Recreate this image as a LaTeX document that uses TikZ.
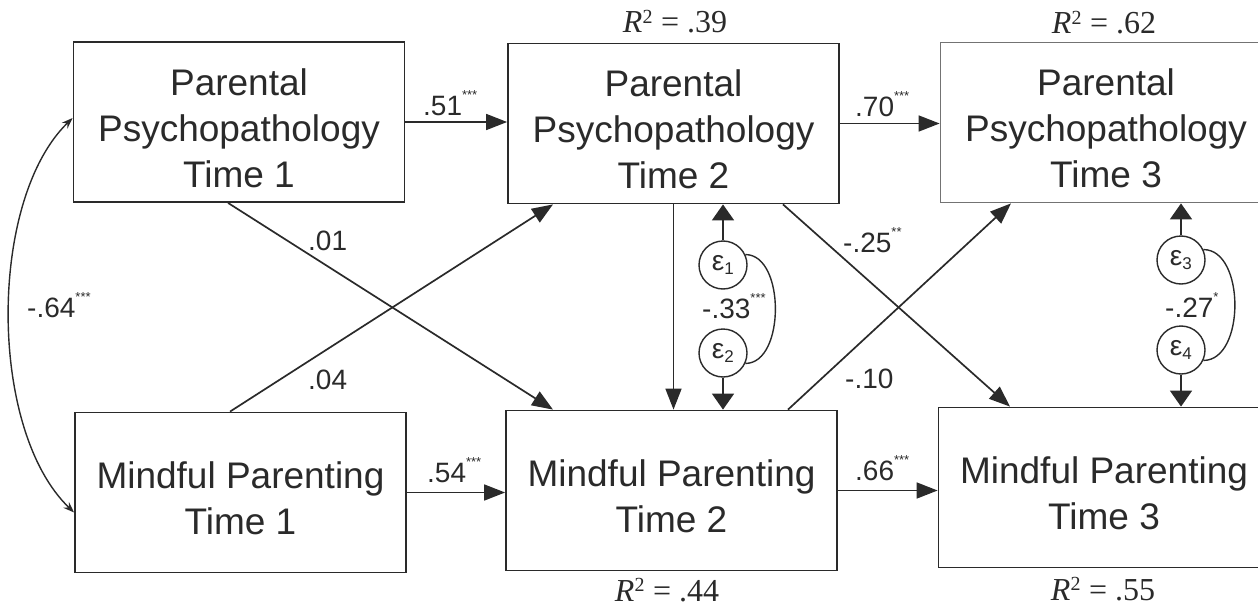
\documentclass[tikz,border=0pt]{standalone}
\usepackage{fontspec}
\setmainfont{Liberation Sans}
\newfontfamily\seriffont{Liberation Serif}
\usetikzlibrary{arrows.meta}
\newcommand{\sigstars}[1]{\raisebox{0.55em}{\fontsize{13}{13}\selectfont #1}}
\definecolor{ink}{HTML}{2A2A2A}
\begin{document}
\begin{tikzpicture}[x=1pt,y=-1pt,
  box/.style={draw=ink, line width=1.8pt, minimum width=331pt, minimum height=160pt, inner sep=0pt},
  boxtext/.style={align=center, font=\fontsize{37}{46}\selectfont, inner sep=0pt, text=ink},
  conn/.style={line width=1.7pt, draw=ink, -{Triangle[length=21pt,width=16pt]}},
  econn/.style={line width=1.7pt, draw=ink, -{Triangle[length=16pt,width=22pt]}},
  corr/.style={line width=1.4pt, draw=ink},
  eps/.style={circle, draw=ink, line width=1.4pt, minimum size=48pt, inner sep=0pt,
    font=\fontsize{28}{28}\selectfont, text=ink},
  lab/.style={font=\fontsize{28}{28}\selectfont, inner sep=0pt, anchor=base west, text=ink},
  rsq/.style={font=\seriffont\fontsize{32}{32}\selectfont, inner sep=0pt, anchor=base, text=ink}]
\useasboundingbox (0,0) rectangle (1258,610);

% boxes
\node[box] (pp1) at (239,122) {};
\node[box] (pp2) at (673.5,123.5) {};
\node[box, draw=black!55] (pp3) at (1106,122.5) {};
\node[box] (mp1) at (240.5,492.5) {};
\node[box] (mp2) at (671.5,490.5) {};
\node[box] (mp3) at (1104,487.5) {};
\node[boxtext] (tpp1) at ([yshift=-6pt]pp1.center) {Parental\\Psychopathology\\Time 1};
\node[boxtext] (tpp2) at ([yshift=-6pt]pp2.center) {Parental\\Psychopathology\\Time 2};
\node[boxtext] (tpp3) at ([yshift=-6pt]pp3.center) {Parental\\Psychopathology\\Time 3};
\node[boxtext] (tmp1) at ([yshift=-6pt]mp1.center) {Mindful Parenting\\Time 1};
\node[boxtext] (tmp2) at ([yshift=-6pt]mp2.center) {Mindful Parenting\\Time 2};
\node[boxtext] (tmp3) at ([yshift=-6pt]mp3.center) {Mindful Parenting\\Time 3};

% R squared
\node[rsq] (r39) at (675,33) {\textit{R}\textsuperscript{\fontsize{20}{20}\selectfont 2} = .39};
\node[rsq] (r62) at (1104,34) {\textit{R}\textsuperscript{\fontsize{20}{20}\selectfont 2} = .62};
\node[rsq] (r44) at (667,601) {\textit{R}\textsuperscript{\fontsize{20}{20}\selectfont 2} = .44};
\node[rsq] (r55) at (1103,600) {\textit{R}\textsuperscript{\fontsize{20}{20}\selectfont 2} = .55};

% residuals
\node[eps] (e1) at (723,265) {ε\textsubscript{\fontsize{17}{17}\selectfont 1}};
\node[eps] (e2) at (723,353) {ε\textsubscript{\fontsize{17}{17}\selectfont 2}};
\node[eps] (e3) at (1181,260) {ε\textsubscript{\fontsize{17}{17}\selectfont 3}};
\node[eps] (e4) at (1181,350) {ε\textsubscript{\fontsize{17}{17}\selectfont 4}};

% horizontal paths
\draw[conn] (pp1.east) -- (pp1.east -| pp2.west);
\draw[conn] (pp2.east) -- (pp2.east -| pp3.west);
\draw[conn] (mp1.east) -- (mp1.east -| mp2.west);
\draw[conn] (mp2.east) -- (mp2.east -| mp3.west);

% cross-lagged paths
\draw[conn] ([xshift=-11pt]pp1.south) -- ([xshift=-118.5pt]mp2.north);
\draw[conn] ([xshift=-10.5pt]mp1.north) -- ([xshift=-120.5pt]pp2.south);
\draw[conn] ([xshift=109.5pt]pp2.south) -- ([xshift=-94pt]mp3.north);
\draw[conn] ([xshift=116.5pt]mp2.north) -- ([xshift=-95pt]pp3.south);
\draw[conn] (pp2.south) -- (pp2.south |- mp2.north);

% residual arrows
\draw[econn] (e1.north) -- (e1.north |- pp2.south);
\draw[econn] (e2.south) -- (e2.south |- mp2.north);
\draw[econn] (e3.north) -- (e3.north |- pp3.south);
\draw[econn] (e4.south) -- (e4.south |- mp3.north);

% residual correlations
\draw[corr] (e1.25) .. controls +(40,0) and +(40,0) .. (e2.-25);
\draw[corr] (e3.25) .. controls +(42,0) and +(42,0) .. (e4.-25);

% time 1 correlation
\coordinate (c1) at ([yshift=4pt]pp1.west);
\coordinate (c2) at ([yshift=-20pt]mp1.west);
\draw[corr, {Stealth[length=11pt,width=8pt]}-{Stealth[length=11pt,width=8pt]}]
  (c1) .. controls (-12,200) and (-12,430) .. (c2);

% labels
\node[lab] (l51) at (423,115) {.51\sigstars{***}};
\node[lab] (l70) at (855,116) {.70\sigstars{***}};
\node[lab] (l54) at (427,482) {.54\sigstars{***}};
\node[lab] (l66) at (855,480) {.66\sigstars{***}};
\node[lab] (l01) at (308,250) {.01};
\node[lab] (l04) at (308,389) {.04};
\node[lab] (l25) at (843,252) {-.25\sigstars{**}};
\node[lab] (l10) at (845,388) {-.10};
\node[lab] (l33) at (702,318) {-.33\sigstars{***}};
\node[lab] (l27) at (1165,317) {-.27\sigstars{*}};
\node[lab] (l64) at (27,317) {-.64\sigstars{***}};
\end{tikzpicture}
\end{document}
